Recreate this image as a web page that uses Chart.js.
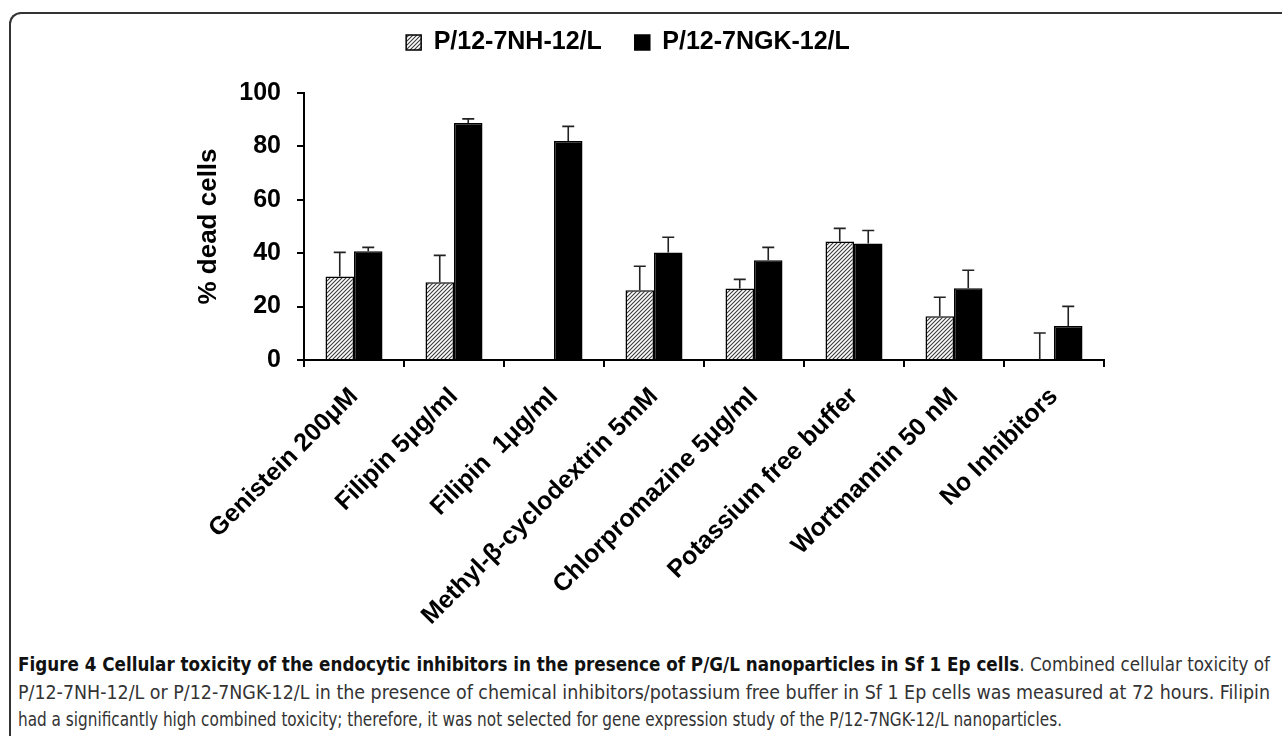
<!DOCTYPE html>
<html>
<head>
<meta charset="utf-8">
<title>Figure 4</title>
<script src="https://cdn.jsdelivr.net/npm/chart.js@4.4.1/dist/chart.umd.min.js"></script>
<style>
  html, body { margin: 0; padding: 0; background: #fff; }
  body { width: 1282px; height: 736px; position: relative; overflow: hidden; }
  #frame {
    position: absolute; left: 9px; top: 12px; width: 1400px; height: 800px;
    border-top: 2px solid #333; border-left: 2px solid #333;
    border-top-left-radius: 12px; box-sizing: border-box;
  }
  #chart-wrap { position: absolute; left: 0; top: 0; width: 1282px; height: 650px; }
  #caption {
    position: absolute; left: 18px; top: 651px; width: 1252px;
    font-family: "DejaVu Sans Condensed", "DejaVu Sans", sans-serif;
    font-stretch: condensed; font-size: 20px; line-height: 27.5px; color: #333;
  }
  #caption span.line { display: block; width: max-content; white-space: nowrap; transform-origin: 0 0; }
  #caption b { color: #111; }
</style>
</head>
<body>
<div id="frame"></div>
<div id="chart-wrap"><canvas id="fig4"></canvas></div>
<div id="caption">
  <span class="line" data-w="1252"><b>Figure 4 Cellular toxicity of the endocytic inhibitors in the presence of P/G/L nanoparticles in Sf 1 Ep cells</b>. Combined cellular toxicity of</span>
  <span class="line" data-w="1252">P/12-7NH-12/L or P/12-7NGK-12/L in the presence of chemical inhibitors/potassium free buffer in Sf 1 Ep cells was measured at 72 hours. Filipin</span>
  <span class="line" data-w="1044">had a significantly high combined toxicity; therefore, it was not selected for gene expression study of the P/12-7NGK-12/L nanoparticles.</span>
</div>
<script>
  // data
  var categories = ['Genistein 200μM', 'Filipin 5μg/ml', 'Filipin  1μg/ml', 'Methyl-β-cyclodextrin 5mM',
    'Chlorpromazine 5μg/ml', 'Potassium free buffer', 'Wortmannin 50 nM', 'No Inhibitors'];
  var seriesNames = ['P/12-7NH-12/L', 'P/12-7NGK-12/L'];
  var nhValues = [31.3, 29.1, 0, 26.1, 26.8, 44.4, 16.4, 0];
  var nhErrors = [9.0, 10.1, 0, 9.0, 3.4, 4.9, 7.1, 10.1];
  var ngkValues = [40.7, 88.8, 82.0, 40.3, 37.4, 43.6, 26.9, 12.7];
  var ngkErrors = [1.5, 1.5, 5.5, 5.7, 4.8, 4.9, 6.7, 7.4];
  var yTicks = [0, 20, 40, 60, 80, 100];

  Chart.defaults.font.family = '"Liberation Sans", Arial, sans-serif';
  Chart.defaults.color = '#000';

  // squeeze each caption line to the width it has in the figure
  var lines = document.querySelectorAll('#caption .line');
  for (var i = 0; i < lines.length; i++) {
    var w = lines[i].getBoundingClientRect().width;
    lines[i].style.transform = 'scaleX(' + (parseFloat(lines[i].getAttribute('data-w')) / w) + ')';
  }

  function makeHatch() {
    var c = document.createElement('canvas');
    c.width = 4; c.height = 4;
    var g = c.getContext('2d');
    g.fillStyle = '#fff';
    g.fillRect(0, 0, 4, 4);
    g.strokeStyle = '#3a3a3a';
    g.lineWidth = 1.1;
    g.beginPath();
    g.moveTo(0, 4); g.lineTo(4, 0);
    g.moveTo(-1, 1); g.lineTo(1, -1);
    g.moveTo(3, 5); g.lineTo(5, 3);
    g.stroke();
    return g.createPattern(c, 'repeat');
  }

  // upward-only error bars with a small cap
  var errorBars = {
    id: 'errorBars',
    afterDatasetsDraw: function(chart) {
      var ctx = chart.ctx;
      var yScale = chart.scales.y;
      ctx.save();
      ctx.strokeStyle = '#222';
      ctx.lineWidth = 1.6;
      chart.data.datasets.forEach(function(ds, i) {
        var meta = chart.getDatasetMeta(i);
        meta.data.forEach(function(bar, j) {
          var err = ds.errors[j];
          if (!err) return;
          var yTop = yScale.getPixelForValue(ds.data[j] + err);
          ctx.beginPath();
          ctx.moveTo(bar.x, bar.y);
          ctx.lineTo(bar.x, yTop);
          ctx.moveTo(bar.x - 6, yTop);
          ctx.lineTo(bar.x + 6, yTop);
          ctx.stroke();
        });
      });
      ctx.restore();
    }
  };

  var chart = new Chart(document.getElementById('fig4'), {
    type: 'bar',
    data: {
      labels: categories,
      datasets: [
        {
          label: seriesNames[0],
          data: nhValues,
          errors: nhErrors,
          backgroundColor: makeHatch(),
          borderColor: '#000',
          borderWidth: 1.5,
          categoryPercentage: 0.57,
          barPercentage: 1.0
        },
        {
          label: seriesNames[1],
          data: ngkValues,
          errors: ngkErrors,
          backgroundColor: '#000',
          borderColor: '#000',
          borderWidth: 1.5,
          categoryPercentage: 0.57,
          barPercentage: 1.0
        }
      ]
    },
    options: {
      responsive: true,
      maintainAspectRatio: false,
      animation: false,
      layout: { padding: { top: -3, left: 0, right: 26, bottom: 0 } },
      plugins: {
        legend: {
          position: 'top',
          labels: {
            boxWidth: 15,
            boxHeight: 15,
            padding: 33,
            color: '#000',
            font: { size: 25, weight: 'bold' }
          }
        },
        tooltip: { enabled: false }
      },
      scales: {
        x: {
          grid: { display: true, offset: true, drawOnChartArea: false, drawTicks: true, tickLength: 7, color: '#000', lineWidth: 2 },
          border: { display: true, color: '#000', width: 2 },
          ticks: { autoSkip: false, minRotation: 45, maxRotation: 45, padding: 15, font: { size: 25, weight: 'bold' }, color: '#000' },
          afterFit: function(s) { s.height = 290; }
        },
        y: {
          min: 0,
          max: 100,
          afterBuildTicks: function(s) { s.ticks = yTicks.map(function(v) { return { value: v }; }); },
          grid: { display: true, drawOnChartArea: false, drawTicks: true, tickLength: 7, color: '#000', lineWidth: 2 },
          border: { display: true, color: '#000', width: 2 },
          ticks: { padding: 16, font: { size: 25, weight: 'bold' }, color: '#000' },
          title: { display: true, text: '% dead cells', font: { size: 26, weight: 'bold' }, color: '#000', padding: { top: 193, bottom: 0 } },
          afterFit: function(s) { s.width = 304; }
        },
        spacer: {
          type: 'linear',
          position: 'right',
          display: true,
          grid: { display: false },
          border: { display: false },
          ticks: { display: false },
          afterFit: function(s) { s.width = 152; }
        }
      }
    },
    plugins: [errorBars]
  });

  // push the plot area down below the legend, as in the figure
  var baseFit = chart.legend.fit;
  chart.legend.fit = function() {
    baseFit.call(this);
    this.height = 96;
  };
  chart.update();
</script>
</body>
</html>
